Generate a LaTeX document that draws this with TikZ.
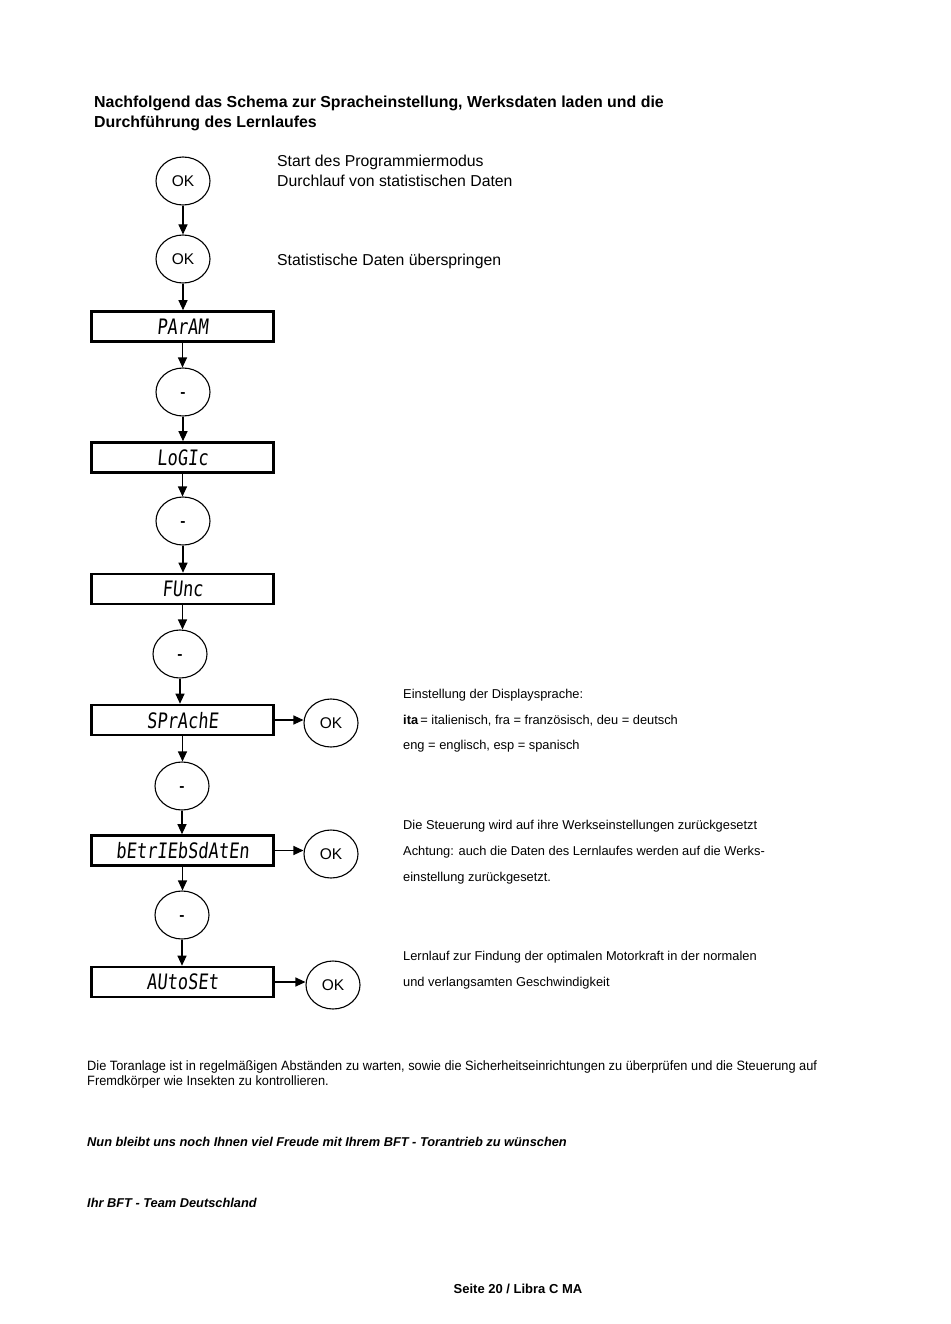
\documentclass[tikz,border=0pt]{standalone}
\usepackage{fontspec}
\setmainfont{Liberation Sans}
\newfontfamily\segfont[FakeSlant=0.12]{DejaVu Sans Mono}
\usetikzlibrary{shapes.geometric,arrows.meta}
\begin{document}
\begin{tikzpicture}[x=1pt,y=-1pt,
  every node/.style={text depth=0pt},
  key/.style={ellipse,draw,line width=1.1pt,minimum width=54pt,minimum height=48pt,inner sep=0pt,text height=11.1pt,text depth=0pt,font=\fontsize{15.5}{18}\selectfont},
  disp/.style={rectangle,draw,line width=2.6pt,minimum width=182pt,minimum height=30pt,inner sep=0pt,font=\segfont\fontsize{17}{20}\selectfont},
  arr/.style={line width=1.1pt,-{Triangle[length=10pt,width=9pt]}},
  lbl/.style={anchor=base west,inner sep=0pt,font=\fontsize{15.8}{18}\selectfont},
  sml/.style={anchor=base west,inner sep=0pt,font=\fontsize{12.85}{16}\selectfont},
  bi/.style={anchor=base west,inner sep=0pt,font=\bfseries\itshape\fontsize{12.8}{16}\selectfont}]
\useasboundingbox[fill=white] (0,0) rectangle (950,1324);

% title
\node[anchor=base west,inner sep=0pt,font=\bfseries\fontsize{15.9}{18}\selectfont] (t1) at (94,107.5) {Nachfolgend das Schema zur Spracheinstellung, Werksdaten laden und die};
\node[anchor=base west,inner sep=0pt,font=\bfseries\fontsize{15.9}{18}\selectfont] (t2) at (94,127.5) {Durchführung des Lernlaufes};

% flow
\node[key] (ok1) at (183,181) {OK};
\node[key] (ok2) at (183,259) {OK};
\node[disp] (param) at (182.5,326.5) {\scalebox{1}[1.25]{PArAM}};
\node[key] (m1) at (183,392) {\textbf{-}};
\node[disp] (logic) at (182.5,457.5) {\scalebox{1}[1.25]{LoGIc}};
\node[key] (m2) at (183,521) {\textbf{-}};
\node[disp] (func) at (182.5,589) {\scalebox{1}[1.25]{FUnc}};
\node[key] (m3) at (180,654) {\textbf{-}};
\node[disp] (spr) at (182.5,720) {\scalebox{1}[1.25]{SPrAchE}};
\node[key] (okS) at (331,723) {OK};
\node[key] (m4) at (182,786) {\textbf{-}};
\node[disp] (betr) at (182.5,850.5) {\scalebox{1}[1.25]{bEtrIEbSdAtEn}};
\node[key] (okB) at (331,854) {OK};
\node[key] (m5) at (182,915) {\textbf{-}};
\node[disp] (auto) at (182.5,982) {\scalebox{1}[1.25]{AUtoSEt}};
\node[key] (okA) at (333,985) {OK};

\draw[arr] (ok1.south) -- (ok1.south |- ok2.north);
\draw[arr] (ok2.south) -- (ok2.south |- param.north);
\draw[arr] (param.south) -- (param.south |- m1.north);
\draw[arr] (m1.south) -- (m1.south |- logic.north);
\draw[arr] (logic.south) -- (logic.south |- m2.north);
\draw[arr] (m2.south) -- (m2.south |- func.north);
\draw[arr] (func.south) -- (func.south |- m3.north);
\draw[arr] (m3.south) -- (m3.south |- spr.north);
\draw[arr] (spr.south) -- (spr.south |- m4.north);
\draw[arr] (m4.south) -- (m4.south |- betr.north);
\draw[arr] (betr.south) -- (betr.south |- m5.north);
\draw[arr] (m5.south) -- (m5.south |- auto.north);
\draw[arr] (spr.east) -- (spr.east -| okS.west);
\draw[arr] (betr.east) -- (betr.east -| okB.west);
\draw[arr] (auto.east) -- (auto.east -| okA.west);

% labels
\node[lbl] (l1) at (277,166.5) {Start des Programmiermodus};
\node[lbl] (l2) at (277,186.5) {Durchlauf von statistischen Daten};
\node[lbl] (l3) at (277,265.5) {Statistische Daten überspringen};

\node[sml] (s1) at (403,698.5) {Einstellung der Displaysprache:};
\node[sml] (s2) at (403,724.5) {\textbf{ita}\,= italienisch, fra = französisch, deu = deutsch};
\node[sml] (s3) at (403,749.5) {eng = englisch, esp = spanisch};

\node[sml] (s4) at (403,829.5) {Die Steuerung wird auf ihre Werkseinstellungen zurückgesetzt};
\node[sml] (s5) at (403,855.5) {Achtung: auch die Daten des Lernlaufes werden auf die Werks-};
\node[sml] (s6) at (403,881.5) {einstellung zurückgesetzt.};

\node[sml] (s7) at (403,960.5) {Lernlauf zur Findung der optimalen Motorkraft in der normalen};
\node[sml] (s8) at (403,986.5) {und verlangsamten Geschwindigkeit};

% bottom text
\node[sml,font=\fontsize{13.5}{16}\selectfont] (b1) at (87,1070.5) {\scalebox{0.947}[1]{Die Toranlage ist in regelmäßigen Abständen zu warten, sowie die Sicherheitseinrichtungen zu überprüfen und die Steuerung auf}};
\node[sml,font=\fontsize{13.5}{16}\selectfont] (b2) at (87,1085.5) {\scalebox{0.947}[1]{Fremdkörper wie Insekten zu kontrollieren.}};
\node[bi] (b3) at (87,1146.5) {Nun bleibt uns noch Ihnen viel Freude mit Ihrem BFT - Torantrieb zu wünschen};
\node[bi] (b4) at (87,1207.5) {Ihr BFT - Team Deutschland};
\node[anchor=base,inner sep=0pt,font=\bfseries\fontsize{13}{16}\selectfont] (pg) at (518,1293.5) {Seite 20 / Libra C MA};
\end{tikzpicture}
\end{document}
